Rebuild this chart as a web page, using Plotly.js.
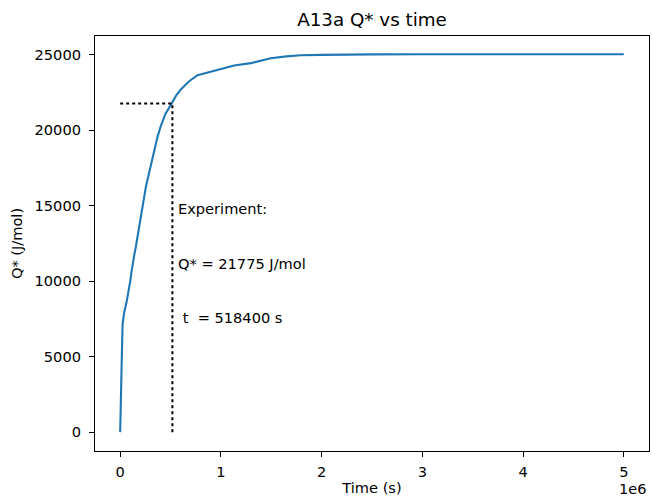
<!DOCTYPE html>
<html>
<head>
<meta charset="utf-8">
<script src="https://cdn.plot.ly/plotly-3.0.1.min.js"></script>
<style>html,body{margin:0;padding:0;background:#fff;}#chart{width:652px;height:496px;}</style>
</head>
<body>
<div id="chart"></div>
<script>
// Time (s) and Q* (J/mol)
const timeS = [0, 5000, 12000, 17000, 24000, 40000, 63000, 73000, 89000, 100000, 112000, 123000, 140000, 156000, 180000, 205000, 230000, 255000, 288000, 320000, 337000, 370000, 404000, 450000, 513000, 560000, 602000, 685000, 768000, 900000, 1000000, 1131000, 1297000, 1396000, 1495000, 1650000, 1793000, 2000000, 2200000, 2500000, 3000000, 3500000, 4000000, 4500000, 5000000];
const qStar = [0, 2500, 4200, 5200, 7200, 7950, 8600, 8950, 9400, 10000, 10600, 11150, 11750, 12300, 13300, 14300, 15300, 16250, 17200, 18150, 18700, 19550, 20300, 21100, 21800, 22350, 22700, 23250, 23650, 23900, 24100, 24300, 24450, 24600, 24770, 24900, 24970, 25000, 25020, 25030, 25040, 25040, 25040, 25040, 25040];

// Experimental point
const tExp = 518400;
const qExp = 21775;

// Tick labels
const xTickVals = [0, 1e6, 2e6, 3e6, 4e6, 5e6];
const xTickText = ['0', '1', '2', '3', '4', '5'];
const yTickVals = [0, 5000, 10000, 15000, 20000, 25000];
const yTickText = ['0', '5000', '10000', '15000', '20000', '25000'];

const annLines = ['Experiment:', 'Q* = ' + qExp + ' J/mol', '\u00a0t\u00a0\u00a0= ' + tExp + ' s'];

const font = 'DejaVu Sans, sans-serif';
const fs = 14.6;

const traces = [
  {x: timeS, y: qStar, mode: 'lines', line: {color: '#1f77b4', width: 2.1}, hoverinfo: 'none'},
  {x: [0, tExp], y: [qExp, qExp], mode: 'lines', line: {color: '#000', width: 2, dash: 'dot'}, hoverinfo: 'none'},
  {x: [tExp, tExp], y: [0, qExp], mode: 'lines', line: {color: '#000', width: 2, dash: 'dot'}, hoverinfo: 'none'}
];

const annY = [14850, 11185, 7590];
const annotations = annLines.map((t, i) => ({
  x: 550000, y: annY[i], xref: 'x', yref: 'y', text: t, showarrow: false,
  xanchor: 'left', yanchor: 'middle', font: {family: font, size: fs, color: '#000'}
}));
annotations.push({
  x: 1, y: -0.09, xref: 'paper', yref: 'paper', text: '1e6', showarrow: false,
  xanchor: 'right', yanchor: 'middle', font: {family: font, size: fs, color: '#000'}
});

const layout = {
  width: 652, height: 496,
  margin: {l: 95, r: 3, t: 36, b: 45, pad: 0},
  paper_bgcolor: '#fff', plot_bgcolor: '#fff',
  showlegend: false,
  font: {family: font, size: fs, color: '#000'},
  title: {text: 'A13a Q* vs time', font: {family: font, size: 18.3, color: '#000'}, x: 0.5, xref: 'paper', y: 1 - 20 / 496, yref: 'container', yanchor: 'middle'},
  xaxis: {
    range: [-250000, 5250000], tickvals: xTickVals, ticktext: xTickText,
    ticks: 'outside', ticklen: 5, tickwidth: 1.1, tickcolor: '#000',
    showline: true, linecolor: '#000', linewidth: 1.1, mirror: true,
    showgrid: false, zeroline: false, ticklabelstandoff: 2,
    title: {text: 'Time (s)', font: {family: font, size: fs, color: '#000'}, standoff: 5}
  },
  yaxis: {
    range: [-1250, 26250], tickvals: yTickVals, ticktext: yTickText,
    ticks: 'outside', ticklen: 5, tickwidth: 1.1, tickcolor: '#000',
    showline: true, linecolor: '#000', linewidth: 1.1, mirror: true,
    showgrid: false, zeroline: false, ticklabelstandoff: 5,
    title: {text: 'Q* (J/mol)', font: {family: font, size: fs, color: '#000'}, standoff: 8}
  },
  annotations: annotations
};

Plotly.newPlot('chart', traces, layout, {staticPlot: true, displayModeBar: false});
</script>
</body>
</html>
